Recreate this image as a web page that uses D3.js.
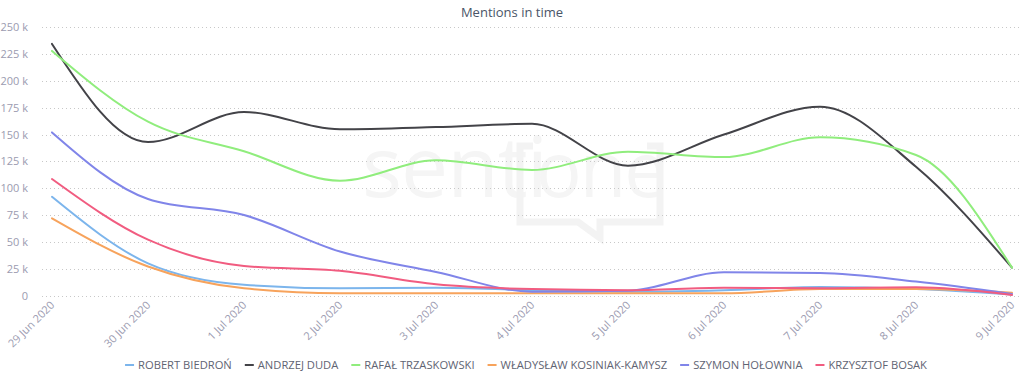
<!DOCTYPE html>
<html><head><meta charset="utf-8">
<script src="https://cdn.jsdelivr.net/npm/d3@7"></script>
<style>
html,body{margin:0;padding:0;background:#fff;}
svg{display:block;font-family:"Open Sans",sans-serif;}
</style></head>
<body><svg id="chart" width="1024" height="382"></svg>
<script>
const dates = ["29 Jun 2020","30 Jun 2020","1 Jul 2020","2 Jul 2020","3 Jul 2020","4 Jul 2020","5 Jul 2020","6 Jul 2020","7 Jul 2020","8 Jul 2020","9 Jul 2020"];
const yTicks = [0,25000,50000,75000,100000,125000,150000,175000,200000,225000,250000];
const seriesNames = ["ROBERT BIEDROŃ","ANDRZEJ DUDA","RAFAŁ TRZASKOWSKI","WŁADYSŁAW KOSINIAK-KAMYSZ","SZYMON HOŁOWNIA","KRZYSZTOF BOSAK"];
const seriesColors = ["#7cb5ec","#434348","#90ed7d","#f7a35c","#8085e9","#f15c80"];
const biedron   = [92000,30000,10000,6700,7300,5000,3500,5000,8000,6000,1000];
const duda      = [234500,143000,171000,155000,157000,160000,121000,150000,176000,120000,26000];
const trzaskowski=[228000,162000,134500,107000,126000,117000,134000,129000,147500,131000,26000];
const kosiniak  = [72000,27000,6700,2000,2000,2000,2000,2000,6000,6000,2600];
const holownia  = [152000,90000,75000,41000,22000,3500,4500,21600,21000,13000,1500];
const bosak     = [108600,52000,27500,23000,10400,6000,5000,7300,6700,7600,500];
const seriesValues = [biedron,duda,trzaskowski,kosiniak,holownia,bosak];

const svg = d3.select("#chart");
const plot = {left:42, right:1020, top:27.3, bottom:295.5};

const x = d3.scalePoint().domain(dates).range([52,1012]);
const y = d3.scaleLinear().domain([0,250000]).range([plot.bottom, plot.top]);

// watermark
const wm = svg.append("g");
wm.append("text").attr("x",362).attr("y",197).attr("font-size",84).attr("font-weight",400)
  .attr("fill","#f5f5f5").attr("font-family","'Open Sans',sans-serif").attr("letter-spacing",-1).text("senti");
wm.append("text").attr("x",536).attr("y",197).attr("font-size",76).attr("font-weight",400)
  .attr("fill","#f5f5f5").attr("font-family","'Open Sans',sans-serif").attr("letter-spacing",-2).text("one");
wm.append("path").attr("d","M533,146 H520 V222 H578 L600,238 V222 H660 V146 H647")
  .attr("stroke","#f3f3f3").attr("stroke-width",7).attr("fill","none");

// title
svg.append("text").attr("x",512).attr("y",17).attr("text-anchor","middle")
  .attr("font-size",13).attr("fill","#4a5568").text("Mentions in time");

// grid
svg.append("g").selectAll("line").data(yTicks).join("line")
  .attr("x1",plot.left).attr("x2",plot.right)
  .attr("y1",d=>Math.round(y(d))+0.5).attr("y2",d=>Math.round(y(d))+0.5)
  .attr("stroke","#c8c8c8").attr("stroke-width",1).attr("stroke-dasharray","1,3");

// y axis labels
const yAxis = d3.axisLeft(y).tickValues(yTicks).tickSize(0).tickPadding(0)
  .tickFormat(d=> d===0 ? "0" : (d/1000)+" k");
const yg = svg.append("g").attr("transform","translate(28,0)").call(yAxis);
yg.select(".domain").remove();
yg.selectAll("text").attr("font-size",11).attr("fill","#9b9bb0").attr("font-family","'Open Sans',sans-serif");

// x axis labels
const xAxis = d3.axisBottom(x).tickSize(0).tickPadding(0);
const xg = svg.append("g").attr("transform","translate(0,303)").call(xAxis);
xg.select(".domain").remove();
xg.selectAll("text").attr("font-size",11).attr("fill","#9b9bb0").attr("font-family","'Open Sans',sans-serif")
  .attr("text-anchor","end").attr("dy","0.35em").attr("transform","rotate(-45)");

// lines
const line = d3.line().x((d,i)=>x(dates[i])).y(d=>y(d)).curve(d3.curveMonotoneX);
svg.append("g").selectAll("path").data(seriesValues).join("path")
  .attr("d",d=>line(d)).attr("fill","none")
  .attr("stroke",(d,i)=>seriesColors[i]).attr("stroke-width",2)
  .attr("stroke-linejoin","round").attr("stroke-linecap","round");

// legend
const lg = svg.append("g");
const items = lg.selectAll("g").data(seriesNames).join("g");
items.append("line").attr("x1",0).attr("x2",9).attr("y1",0).attr("y2",0)
  .attr("stroke",(d,i)=>seriesColors[i]).attr("stroke-width",2);
items.append("text").attr("x",13).attr("y",0).attr("dy","0.35em")
  .attr("font-size",11.2).attr("fill","#5f6473").attr("font-family","'Open Sans',sans-serif").text(d=>d);
let cx = 0; const gap = 13; const pos = [];
items.each(function(){ const w = 13 + d3.select(this).select("text").node().getComputedTextLength(); pos.push(cx); cx += w + gap; });
const total = cx - gap;
const startX = 526 - total/2;
items.attr("transform",(d,i)=>`translate(${startX+pos[i]},365)`);
</script></body></html>
